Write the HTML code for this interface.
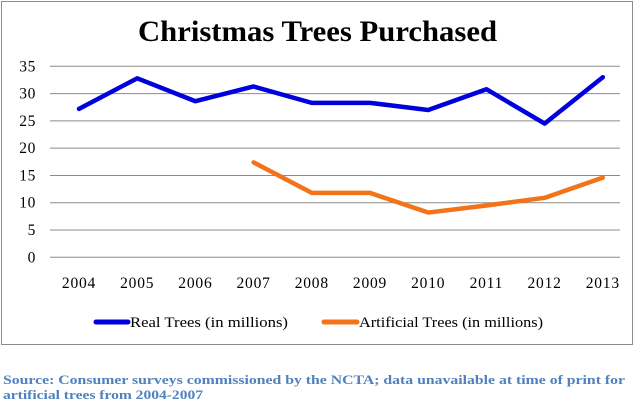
<!DOCTYPE html>
<html><head><meta charset="utf-8"><style>
body{margin:0;background:#fff;width:635px;height:409px;overflow:hidden;font-family:"Liberation Serif",serif}
</style></head><body>
<svg width="635" height="409">
<rect x="1.5" y="1.5" width="631" height="343" fill="#fff" stroke="#8c8c8c"/>
<text x="138" y="41" font-size="30" font-weight="bold" textLength="359" lengthAdjust="spacingAndGlyphs">Christmas Trees Purchased</text>
<g id="grid"></g><g id="series"></g>
<line x1="96" y1="322" x2="128" y2="322" stroke="#0000dd" stroke-width="5" stroke-linecap="round"/>
<text x="130" y="327" font-size="15" textLength="158" lengthAdjust="spacingAndGlyphs">Real Trees (in millions)</text>
<line x1="324" y1="322" x2="357" y2="322" stroke="#f27318" stroke-width="5" stroke-linecap="round"/>
<text x="359" y="327" font-size="15" textLength="184" lengthAdjust="spacingAndGlyphs">Artificial Trees (in millions)</text>
<text x="3" y="384" font-size="12.5" font-weight="bold" fill="#4f81bd" textLength="622" lengthAdjust="spacingAndGlyphs">Source: Consumer surveys commissioned by the NCTA; data unavailable at time of print for</text>
<text x="3" y="399" font-size="12.5" font-weight="bold" fill="#4f81bd" textLength="200" lengthAdjust="spacingAndGlyphs">artificial trees from 2004-2007</text>
</svg>
<script>
const years=["2004","2005","2006","2007","2008","2009","2010","2011","2012","2013"];
const realTrees=[27.2,32.8,28.6,31.3,28.3,28.3,27.0,30.8,24.5,33.0];
const artificialTrees=[null,null,null,17.4,11.8,11.8,8.2,9.5,10.9,14.6];
const yTicks=[0,5,10,15,20,25,30,35];
const NS="http://www.w3.org/2000/svg";
const x=i=>79+i*58.2;
const y=v=>257.3-v*(191/35);
function mk(tag,attrs,parent){const e=document.createElementNS(NS,tag);for(const k in attrs)e.setAttribute(k,attrs[k]);parent.appendChild(e);return e;}
const grid=document.getElementById('grid'),series=document.getElementById('series');
yTicks.forEach(t=>{
  const l=mk('line',{x1:50,x2:620,y1:y(t),y2:y(t),stroke:'#8c8c8c','stroke-width':1},grid);
  
  
  const tx=mk('text',{x:36,y:y(t)+5,'text-anchor':'end','font-size':15.5,'letter-spacing':0.6},grid);
  tx.textContent=t;
  
  
});
years.forEach((yr,i)=>{
  const tx=mk('text',{x:x(i),y:288,'text-anchor':'middle','font-size':15.5,'letter-spacing':0.8},grid);
  tx.textContent=yr;
  
  
});
function line(data,color,name){
  const pts=[];data.forEach((v,i)=>{if(v!==null)pts.push(x(i)+','+y(v));});
  const p=mk('polyline',{points:pts.join(' '),fill:'none',stroke:color,'stroke-width':4.5,'stroke-linejoin':'round','stroke-linecap':'round'},series);
  
  
}
line(realTrees,'#0000dd','real-trees-line');
line(artificialTrees,'#f27318','artificial-trees-line');
</script>
</body></html>
